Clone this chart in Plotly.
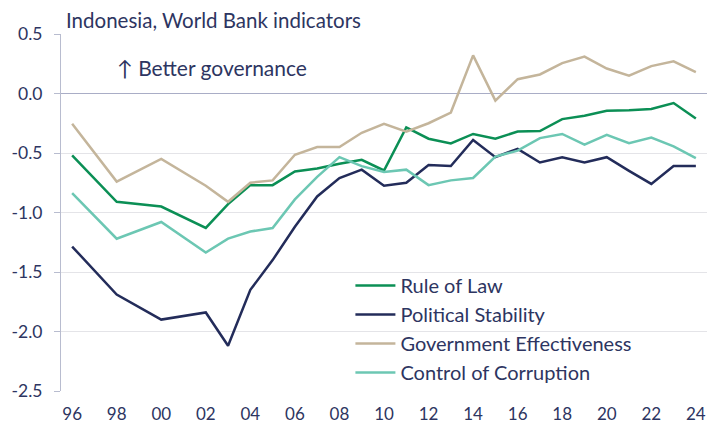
import plotly.graph_objects as go

years = [1996, 1998, 2000, 2002] + list(range(2003, 2025))

rule_of_law = [-0.52, -0.91, -0.95, -1.13, -0.93, -0.77, -0.77, -0.655, -0.63, -0.59,
               -0.557, -0.647, -0.285, -0.38, -0.42, -0.34, -0.38, -0.32, -0.315,
               -0.215, -0.187, -0.145, -0.14, -0.13, -0.08, -0.21]
political_stability = [-1.286, -1.69, -1.90, -1.84, -2.12, -1.65, -1.40, -1.12, -0.865, -0.71,
                       -0.64, -0.775, -0.75, -0.60, -0.61, -0.39, -0.535, -0.465, -0.58,
                       -0.537, -0.58, -0.535, -0.65, -0.76, -0.61, -0.61]
gov_effectiveness = [-0.255, -0.74, -0.55, -0.775, -0.91, -0.75, -0.73, -0.515, -0.45, -0.45,
                     -0.33, -0.255, -0.32, -0.25, -0.16, 0.32, -0.06, 0.12, 0.16,
                     0.255, 0.31, 0.21, 0.15, 0.23, 0.27, 0.18]
control_corruption = [-0.837, -1.22, -1.08, -1.336, -1.22, -1.16, -1.13, -0.89, -0.70, -0.535,
                      -0.61, -0.66, -0.64, -0.77, -0.73, -0.71, -0.53, -0.48, -0.375,
                      -0.34, -0.43, -0.347, -0.417, -0.37, -0.445, -0.543]

series_names = ["Rule of Law", "Political Stability", "Government Effectiveness", "Control of Corruption"]
series_values = [rule_of_law, political_stability, gov_effectiveness, control_corruption]
series_colors = ["#0b8f55", "#232c5a", "#c4b59b", "#6cc7b3"]

x_tickvals = list(range(1996, 2025, 2))
x_ticktext = ["96", "98", "00", "02", "04", "06", "08", "10", "12", "14", "16", "18", "20", "22", "24"]
y_tickvals = [0.5, 0.0, -0.5, -1.0, -1.5, -2.0, -2.5]
y_ticktext = ["0.5", "0.0", "-0.5", "-1.0", "-1.5", "-2.0", "-2.5"]

title_text = "Indonesia, World Bank indicators"
note_text = "\u2191 Better governance"

FONT = "Lato"
TEXT = "#2d3561"

fig = go.Figure()
for name, vals, col in zip(series_names, series_values, series_colors):
    fig.add_trace(go.Scatter(x=years, y=vals, name=name, mode="lines",
                             line=dict(color=col, width=2.5), legendgroup=name))

fig.update_layout(
    width=707, height=418,
    margin=dict(l=53, r=8, t=26, b=35, autoexpand=False),
    paper_bgcolor="white", plot_bgcolor="white",
    font=dict(family=FONT, color=TEXT, size=16),
    showlegend=True,
    legend=dict(x=0.448, y=0.350, xanchor="left", yanchor="top",
                font=dict(size=20, color=TEXT), bgcolor="rgba(0,0,0,0)",
                tracegroupgap=0, itemwidth=40),
    annotations=[
        dict(text=title_text, xref="paper", yref="paper", x=0.004, y=1.0,
             xanchor="left", yanchor="bottom", showarrow=False,
             font=dict(size=20.5, color=TEXT)),
        dict(text=note_text, xref="paper", yref="paper", x=0.084, y=0.907,
             xanchor="left", yanchor="middle", showarrow=False,
             font=dict(size=21, color=TEXT)),
    ],
)
fig.update_xaxes(range=[1995.5, 2024.5], tickvals=x_tickvals, ticktext=x_ticktext,
                 showgrid=False, zeroline=False, showline=False, automargin=False,
                 ticks="outside", ticklen=8, tickcolor="rgba(0,0,0,0)",
                 tickfont=dict(size=17, color=TEXT))
fig.update_yaxes(range=[-2.5, 0.5], tickvals=y_tickvals, ticktext=y_ticktext,
                 showgrid=True, gridcolor="#e4e4e8", gridwidth=1, automargin=False,
                 zeroline=True, zerolinecolor="#a9adc6", zerolinewidth=1,
                 showline=True, linecolor="#b8bccf", linewidth=1,
                 ticks="outside", ticklen=6, tickcolor="#b8bccf",
                 ticklabelstandoff=8,
                 tickfont=dict(size=17.5, color=TEXT))

fig.write_html("out.html")
